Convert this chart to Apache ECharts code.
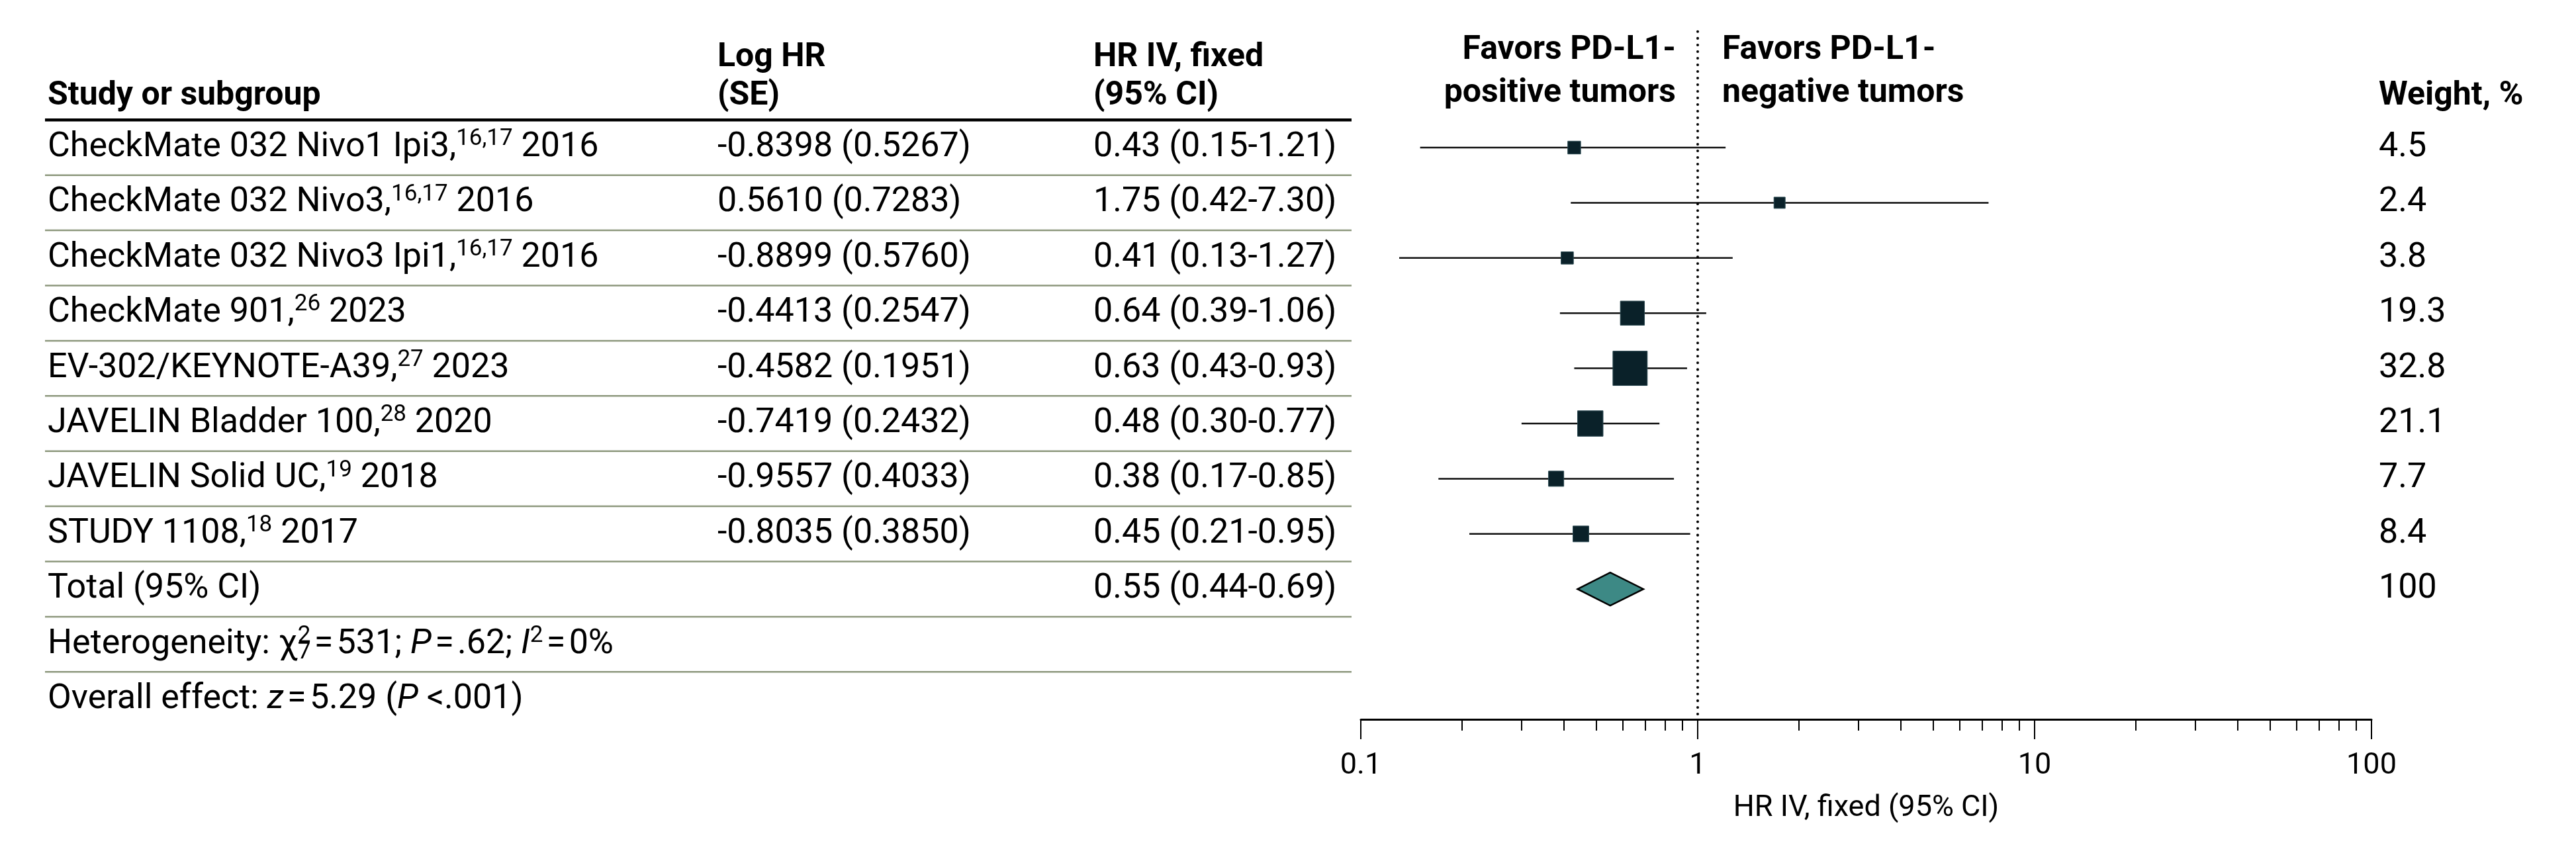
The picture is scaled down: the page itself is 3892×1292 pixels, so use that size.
<!DOCTYPE html>
<html>
<head>
<meta charset="utf-8">
<script src="https://cdn.jsdelivr.net/npm/echarts@6.0.0/dist/echarts.min.js"></script>
<style>
html, body { margin: 0; padding: 0; background: #fff; }
#main { width: 3892px; height: 1292px; }
</style>
</head>
<body>
<div id="main"></div>
<script>
var studies = ['CheckMate 032 Nivo1 Ipi3,', 'CheckMate 032 Nivo3,', 'CheckMate 032 Nivo3 Ipi1,', 'CheckMate 901,',
               'EV-302/KEYNOTE-A39,', 'JAVELIN Bladder 100,', 'JAVELIN Solid UC,', 'STUDY 1108,'];
var refs = ['16,17', '16,17', '16,17', '26', '27', '28', '19', '18'];
var years = ['2016', '2016', '2016', '2023', '2023', '2020', '2018', '2017'];
var logHR = ['-0.8398', '0.5610', '-0.8899', '-0.4413', '-0.4582', '-0.7419', '-0.9557', '-0.8035'];
var seHR = ['0.5267', '0.7283', '0.5760', '0.2547', '0.1951', '0.2432', '0.4033', '0.3850'];
var hr = [0.43, 1.75, 0.41, 0.64, 0.63, 0.48, 0.38, 0.45];
var ciLow = [0.15, 0.42, 0.13, 0.39, 0.43, 0.30, 0.17, 0.21];
var ciHigh = [1.21, 7.30, 1.27, 1.06, 0.93, 0.77, 0.85, 0.95];
var weights = [4.5, 2.4, 3.8, 19.3, 32.8, 21.1, 7.7, 8.4];
var total = [0.44, 0.55, 0.69];   // low, HR, high
var totalWeight = '100';
var majorTicks = [0.1, 1, 10, 100];
var minorTicks = [0.2, 0.3, 0.4, 0.5, 0.6, 0.7, 0.8, 0.9, 2, 3, 4, 5, 6, 7, 8, 9,
                  20, 30, 40, 50, 60, 70, 80, 90];

var W = 3892;
var FONT = 'Roboto';
var rowTop = 223, rowStep = 83.4, axisY = 1087;
var yMin = -2.1, yMax = (axisY - rowTop) / rowStep;
var gridTop = rowTop + yMin * rowStep;
function rowOf(px) { return (px - rowTop) / rowStep; }

var bodySize = 52, boldSize = 50;
var HS = '\u200a'; // hair space
var rich = {
    sup: { fontFamily: FONT, fontSize: 35, lineHeight: 34, verticalAlign: 'top' },
    supz: { fontFamily: FONT, fontSize: 35, lineHeight: 36, verticalAlign: 'top', width: 0 },
    sub: { fontFamily: FONT, fontSize: 35, lineHeight: 36, verticalAlign: 'bottom' },
    it: { fontFamily: FONT, fontSize: bodySize, fontStyle: 'italic', lineHeight: 60 }
};

// column x positions (px)
var colStudy = 72, colLog = 1084, colHR = 1652, colWeight = 3594;

var texts = [];
function addText(x, y, text, opt) {
    opt = opt || {};
    texts.push({ x: x, y: y, text: text, align: opt.align || 'left', bold: !!opt.bold });
}

// headers
var h1 = rowOf(87), h2 = rowOf(145), f1 = rowOf(76), f2 = rowOf(141);
addText(colStudy, h2, 'Study or subgroup', { bold: true });
addText(colLog, h1, 'Log HR', { bold: true });
addText(colLog, h2, '(SE)', { bold: true });
addText(colHR, h1, 'HR IV, fixed', { bold: true });
addText(colHR, h2, '(95% CI)', { bold: true });
addText(2532, f1, 'Favors PD-L1-', { bold: true, align: 'right' });
addText(2532, f2, 'positive tumors', { bold: true, align: 'right' });
addText(2602, f1, 'Favors PD-L1-', { bold: true });
addText(2602, f2, 'negative tumors', { bold: true });
addText(colWeight, h2, 'Weight, %', { bold: true });

// study rows
for (var i = 0; i < studies.length; i++) {
    addText(colStudy, i, studies[i] + '{sup|' + refs[i] + '} ' + years[i]);
    addText(colLog, i, logHR[i] + ' (' + seHR[i] + ')');
    addText(colHR, i, hr[i].toFixed(2) + ' (' + ciLow[i].toFixed(2) + '-' + ciHigh[i].toFixed(2) + ')');
    addText(colWeight, i, String(weights[i]));
}
var nRow = studies.length;
addText(colStudy, nRow, 'Total (95% CI)');
addText(colHR, nRow, total[1].toFixed(2) + ' (' + total[0].toFixed(2) + '-' + total[2].toFixed(2) + ')');
addText(colWeight, nRow, totalWeight);
addText(colStudy, nRow + 1, 'Heterogeneity: \u03c7{supz|2}{sub|7}' + HS + '=' + HS + '531; {it|P}' + HS + '=' + HS +
        '.62; {it|I}{sup|2}' + HS + '=' + HS + '0%');
addText(colStudy, nRow + 2, 'Overall effect: {it|z}' + HS + '=' + HS + '5.29 ({it|P} <.001)');

// row separators (y in row units)
var sepLines = [[-0.5, 1]];
for (var k = 0; k <= nRow + 1; k++) sepLines.push([k + 0.5, 0]);

var ciData = [], boxData = [];
for (var j = 0; j < hr.length; j++) {
    ciData.push([ciLow[j], ciHigh[j], j]);
    boxData.push([hr[j], j, weights[j]]);
}

var chart = echarts.init(document.getElementById('main'));

var option = {
    animation: false,
    backgroundColor: '#fff',
    textStyle: { fontFamily: FONT },
    grid: [
        { left: 0, width: W, top: gridTop, height: axisY - gridTop },
        { left: 2056, width: 1527, top: gridTop, height: axisY - gridTop }
    ],
    xAxis: [
        { type: 'value', gridIndex: 0, min: 0, max: W, show: false },
        {
            type: 'log', gridIndex: 1, logBase: 10, min: 0.1, max: 100, position: 'bottom',
            axisLine: { show: true, onZero: false, lineStyle: { color: '#000', width: 3 } },
            axisTick: { show: true, customValues: majorTicks, length: 30, lineStyle: { color: '#000', width: 2 } },
            axisLabel: { show: true, customValues: majorTicks, margin: 48, color: '#000',
                         fontFamily: FONT, fontSize: 45 },
            splitLine: { show: false },
            name: 'HR IV, fixed (95% CI)', nameLocation: 'middle', nameGap: 112,
            nameTextStyle: { color: '#000', fontFamily: FONT, fontSize: 45 }
        },
        {
            type: 'log', gridIndex: 1, logBase: 10, min: 0.1, max: 100, position: 'bottom',
            axisLine: { show: false, onZero: false },
            axisTick: { show: true, customValues: minorTicks, length: 17, lineStyle: { color: '#000', width: 2 } },
            axisLabel: { show: false },
            splitLine: { show: false }
        }
    ],
    yAxis: [
        { type: 'value', gridIndex: 0, inverse: true, min: yMin, max: yMax, show: false },
        { type: 'value', gridIndex: 1, inverse: true, min: yMin, max: yMax, show: false }
    ],
    series: [
        {
            type: 'custom', xAxisIndex: 0, yAxisIndex: 0, silent: true,
            encode: { y: 0 },
            data: sepLines,
            renderItem: function (params, api) {
                var y = api.value(0);
                var a = api.coord([68, y]), b = api.coord([2042, y]);
                var thick = api.value(1) === 1;
                return { type: 'line', shape: { x1: a[0], y1: a[1], x2: b[0], y2: b[1] },
                         style: { stroke: thick ? '#000' : '#8c977c', lineWidth: thick ? 4.5 : 2.5 } };
            }
        },
        {
            type: 'custom', xAxisIndex: 0, yAxisIndex: 0, silent: true,
            encode: { x: 0, y: 1 },
            data: texts.map(function (t, idx) { return [t.x, t.y, idx]; }),
            renderItem: function (params, api) {
                var t = texts[api.value(2)];
                var p = api.coord([api.value(0), api.value(1)]);
                return {
                    type: 'text', x: p[0], y: p[1],
                    style: {
                        text: t.text, fill: '#000',
                        fontFamily: FONT,
                        fontSize: t.bold ? boldSize : bodySize,
                        fontWeight: t.bold ? 'bold' : 'normal',
                        lineHeight: 60,
                        align: t.align, verticalAlign: 'middle',
                        rich: rich
                    }
                };
            }
        },
        {
            type: 'custom', xAxisIndex: 1, yAxisIndex: 1, silent: true,
            encode: { x: [0, 1], y: 2 },
            data: ciData,
            renderItem: function (params, api) {
                var a = api.coord([api.value(0), api.value(2)]);
                var b = api.coord([api.value(1), api.value(2)]);
                return { type: 'line', shape: { x1: a[0], y1: a[1], x2: b[0], y2: b[1] },
                         style: { stroke: '#111', lineWidth: 2.5 } };
            }
        },
        {
            type: 'scatter', xAxisIndex: 1, yAxisIndex: 1, silent: true,
            symbol: 'rect',
            symbolSize: function (val) { return 14.2 + 1.15 * val[2]; },
            itemStyle: { color: '#0a2129', borderColor: '#2c4a52', borderWidth: 1, opacity: 1 },
            data: boxData,
            z: 3,
            markLine: {
                silent: true, symbol: 'none', label: { show: false },
                lineStyle: { color: '#000', width: 4, type: [0.01, 10], cap: 'round' },
                data: [{ xAxis: 1 }]
            }
        },
        {
            type: 'custom', xAxisIndex: 1, yAxisIndex: 1, silent: true,
            encode: { x: [0, 1, 2], y: 3 },
            data: [[total[0], total[1], total[2], nRow]],
            renderItem: function (params, api) {
                var row = api.value(3);
                var lo = api.coord([api.value(0), row]);
                var mid = api.coord([api.value(1), row]);
                var hi = api.coord([api.value(2), row]);
                var h = 25;
                return { type: 'polygon',
                         shape: { points: [[lo[0], lo[1]], [mid[0], mid[1] - h], [hi[0], hi[1]], [mid[0], mid[1] + h]] },
                         style: { fill: '#3d8985', stroke: '#000', lineWidth: 2.5 } };
            }
        }
    ]
};
chart.setOption(option);
</script>
</body>
</html>
